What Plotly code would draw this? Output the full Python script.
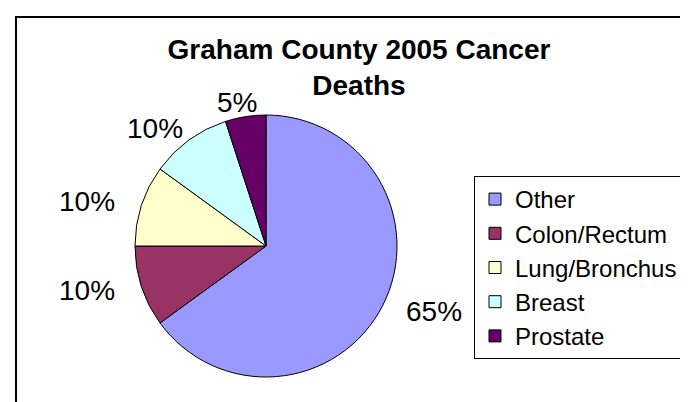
import math

import plotly.graph_objects as go

# Graham County 2005 cancer deaths, share of total (%)
causes = ["Other", "Colon/Rectum", "Lung/Bronchus", "Breast", "Prostate"]
shares = [65, 10, 10, 10, 5]
slice_colors = ["#9999FF", "#993366", "#FFFFCC", "#CCFFFF", "#660066"]

W, H = 688, 402
FONT = "Liberation Sans, Arial, sans-serif"

# pie geometry in pixels (centre and radius)
CX, CY, R = 258, 238, 131
# ring on which the percentage labels sit (wider than tall, like the original)
LABEL_RX, LABEL_RY = 188, 145

fig = go.Figure(
    go.Pie(
        labels=causes,
        values=shares,
        sort=False,
        direction="clockwise",
        rotation=0,
        marker=dict(colors=slice_colors, line=dict(color="black", width=1)),
        textinfo="none",
        domain=dict(
            x=[(CX - R) / W, (CX + R) / W],
            y=[1 - (CY + R) / H, 1 - (CY - R) / H],
        ),
        hoverinfo="label+percent",
    )
)

# percentage labels at the middle angle of each slice
total = sum(shares)
acc = 0
for v in shares:
    mid = math.radians((acc + v / 2) / total * 360)
    acc += v
    px_ = CX + LABEL_RX * math.sin(mid)
    py_ = CY - LABEL_RY * math.cos(mid)
    fig.add_annotation(
        x=px_ / W,
        y=1 - py_ / H,
        xref="paper",
        yref="paper",
        text=f"{round(100 * v / total)}%",
        showarrow=False,
        xanchor="center",
        yanchor="middle",
        font=dict(family=FONT, size=28, color="black"),
    )

fig.update_layout(
    width=W,
    height=H,
    margin=dict(t=0, l=0, r=0, b=0),
    paper_bgcolor="white",
    font=dict(family=FONT, color="black"),
    title=dict(
        text="<b>Graham County 2005 Cancer<br>Deaths</b>",
        font=dict(family=FONT, size=28, color="black"),
        x=351 / W,
        xanchor="center",
        y=1 - 51 / H,
        yanchor="middle",
    ),
    legend=dict(
        x=466 / W,
        y=1 - 168 / H,
        xanchor="left",
        yanchor="top",
        bordercolor="black",
        borderwidth=1,
        font=dict(family=FONT, size=24, color="black"),
    ),
    shapes=[
        dict(
            type="rect",
            xref="paper",
            yref="paper",
            x0=8 / W,
            x1=1.1,
            y0=-0.1,
            y1=1 - 9 / H,
            line=dict(color="black", width=2),
        )
    ],
)

fig.write_html("out.html")
